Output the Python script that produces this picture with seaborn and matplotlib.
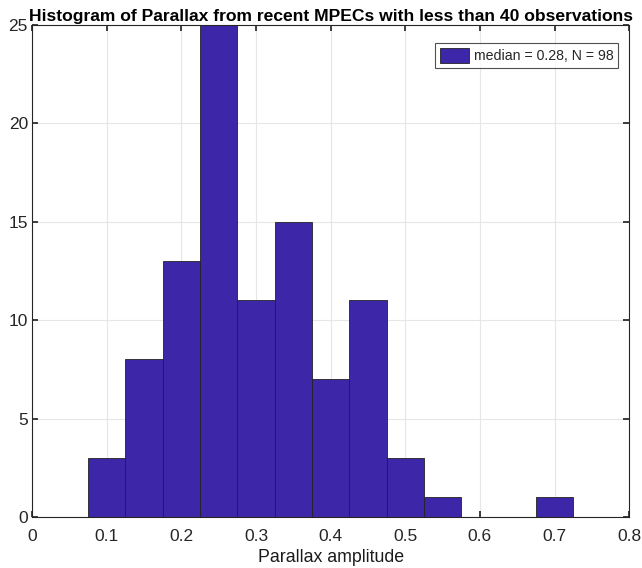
import matplotlib
matplotlib.use("Agg")
import matplotlib.pyplot as plt
import seaborn as sns
import numpy as np

# Histogram of parallax amplitude (bin width 0.05)
bin_edges = [0.075, 0.125, 0.175, 0.225, 0.275, 0.325, 0.375, 0.425,
             0.475, 0.525, 0.575, 0.625, 0.675, 0.725]
bin_counts = [3, 8, 13, 25, 11, 15, 7, 11, 3, 1, 0, 0, 1]
median_value = 0.28
x_ticks = [0, 0.1, 0.2, 0.3, 0.4, 0.5, 0.6, 0.7, 0.8]
y_ticks = [0, 5, 10, 15, 20, 25]

sns.set_theme(style="white")
plt.rcParams["font.family"] = ["Liberation Sans", "DejaVu Sans"]

bin_centers = [(a + b) / 2 for a, b in zip(bin_edges[:-1], bin_edges[1:])]
n_total = sum(bin_counts)

fig = plt.figure(figsize=(6.42, 5.68), dpi=100)
ax = fig.add_axes([0.05, 0.09, 0.93, 0.866])

sns.histplot(x=bin_centers, weights=bin_counts, bins=bin_edges, ax=ax,
             color="#3E26A8", alpha=1.0, edgecolor="#222222", linewidth=0.6,
             label=f"median = {median_value:.2f}, N = {n_total}")

ax.set_xlim(0, 0.8)
ax.set_ylim(0, 25)
ax.set_xticks(x_ticks)
ax.set_xticklabels(["0", "0.1", "0.2", "0.3", "0.4", "0.5", "0.6", "0.7", "0.8"])
ax.set_yticks(y_ticks)
ax.grid(True, color="#e6e6e6", linewidth=0.8)
ax.set_axisbelow(True)
ax.tick_params(direction="in", length=4, labelsize=12.5, colors="#262626",
               top=True, right=True, bottom=True, left=True)
ax.tick_params(axis="x", pad=9)
ax.tick_params(axis="y", pad=3)
for s in ax.spines.values():
    s.set_color("#262626")
    s.set_linewidth(0.8)

ax.set_xlabel("Parallax amplitude", fontsize=12.8, color="#1a1a1a", labelpad=3.5)
ax.set_ylabel("")
ax.set_title("Histogram of Parallax from recent MPECs with less than 40 observations",
             fontsize=12.6, fontweight="bold", color="black", pad=3)

leg = ax.legend(loc="upper right", bbox_to_anchor=(0.982, 0.963), borderaxespad=0,
                fontsize=10.2, frameon=True, fancybox=False,
                edgecolor="#262626", handlelength=2.1, handleheight=1.2,
                borderpad=0.35, handletextpad=0.3)
leg.get_frame().set_linewidth(0.8)

fig.savefig("out.png", dpi=100)
